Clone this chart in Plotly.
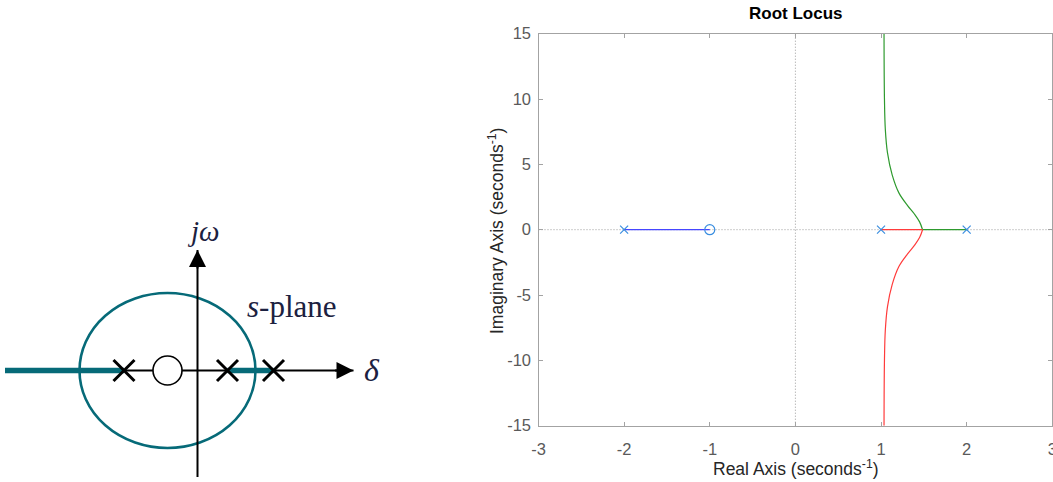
import plotly.graph_objects as go

# ---------------- Left sketch (s-plane), in sketch units ----------------
sk_pole_x = [-7.35, 3.0, 7.6]
sk_zero_x = [-3.0]
sk_locus_left_x = [-19.25, -7.35]
sk_locus_right_x = [3.0, 7.6]
sk_circle_center = [-3.0, 0.0]
sk_circle_radius = [8.8, 7.75]
sk_real_axis_x = [-7.35, 15.6]
sk_imag_axis_y = [-10.65, 12.05]

# ---------------- Root locus data ----------------
rl_pole_re = [-2.0, 1.0, 2.0]
rl_pole_im = [0.0, 0.0, 0.0]
rl_zero_re = [-1.0]
rl_zero_im = [0.0]

blue_re = [-2.0, -1.0]
blue_im = [0.0, 0.0]

green_axis_re = [2.0, 1.485]
green_axis_im = [0.0, 0.0]
green_re = [1.485, 1.45, 1.39, 1.31, 1.21, 1.13, 1.075, 1.05, 1.04, 1.035]
green_im = [0.0, 0.6, 1.2, 1.85, 2.8, 4.2, 5.9, 7.7, 10.0, 15.0]

red_axis_re = [1.0, 1.485]
red_axis_im = [0.0, 0.0]
red_re = [1.485, 1.45, 1.39, 1.31, 1.21, 1.13, 1.075, 1.05, 1.04, 1.035]
red_im = [0.0, -0.6, -1.2, -1.85, -2.8, -4.2, -5.9, -7.7, -10.0, -15.0]

x_ticks = [-3, -2, -1, 0, 1, 2, 3]
y_ticks = [-15, -10, -5, 0, 5, 10, 15]

TEAL = "#066a78"
INK = "#1c2140"
MARK = "#3a8ee0"

fig = go.Figure()

# --- sketch: axes lines
fig.add_trace(go.Scatter(x=sk_real_axis_x, y=[0, 0], mode="lines",
                         line=dict(color="black", width=2), xaxis="x", yaxis="y"))
fig.add_trace(go.Scatter(x=[0, 0], y=sk_imag_axis_y, mode="lines",
                         line=dict(color="black", width=2), xaxis="x", yaxis="y"))
# --- sketch: thick locus segments
fig.add_trace(go.Scatter(x=sk_locus_left_x, y=[0, 0], mode="lines",
                         line=dict(color=TEAL, width=5.5), xaxis="x", yaxis="y"))
fig.add_trace(go.Scatter(x=sk_locus_right_x, y=[0, 0], mode="lines",
                         line=dict(color=TEAL, width=5.5), xaxis="x", yaxis="y"))
# --- sketch: poles and zero
fig.add_trace(go.Scatter(x=sk_pole_x, y=[0] * len(sk_pole_x), mode="markers",
                         marker=dict(symbol="x-thin", size=21,
                                     line=dict(color="black", width=3)),
                         xaxis="x", yaxis="y"))
fig.add_trace(go.Scatter(x=sk_zero_x, y=[0], mode="markers",
                         marker=dict(symbol="circle", size=29, color="white",
                                     line=dict(color="black", width=1.6)),
                         xaxis="x", yaxis="y"))

# --- root locus: zero lines (dotted)
fig.add_trace(go.Scatter(x=[x_ticks[0], x_ticks[-1]], y=[0, 0], mode="lines",
                         line=dict(color="#9a9a9a", width=1, dash="1px,2px"),
                         xaxis="x2", yaxis="y2"))
fig.add_trace(go.Scatter(x=[0, 0], y=[y_ticks[0], y_ticks[-1]], mode="lines",
                         line=dict(color="#9a9a9a", width=1, dash="1px,2px"),
                         xaxis="x2", yaxis="y2"))
# --- root locus branches
fig.add_trace(go.Scatter(x=blue_re, y=blue_im, mode="lines",
                         line=dict(color="#4646ff", width=1.3), xaxis="x2", yaxis="y2"))
fig.add_trace(go.Scatter(x=green_axis_re, y=green_axis_im, mode="lines",
                         line=dict(color="#2e9a2e", width=1.2), xaxis="x2", yaxis="y2"))
fig.add_trace(go.Scatter(x=green_re, y=green_im, mode="lines",
                         line=dict(color="#2e9a2e", width=1.2, shape="spline"),
                         xaxis="x2", yaxis="y2"))
fig.add_trace(go.Scatter(x=red_axis_re, y=red_axis_im, mode="lines",
                         line=dict(color="#ff3b3b", width=1.2), xaxis="x2", yaxis="y2"))
fig.add_trace(go.Scatter(x=red_re, y=red_im, mode="lines",
                         line=dict(color="#ff3b3b", width=1.2, shape="spline"),
                         xaxis="x2", yaxis="y2"))
# --- poles / zeros
fig.add_trace(go.Scatter(x=rl_pole_re, y=rl_pole_im, mode="markers",
                         marker=dict(symbol="x-thin", size=8, color=MARK,
                                     line=dict(color=MARK, width=1.2)),
                         xaxis="x2", yaxis="y2"))
fig.add_trace(go.Scatter(x=rl_zero_re, y=rl_zero_im, mode="markers",
                         marker=dict(symbol="circle-open", size=10, color=MARK,
                                     line=dict(color=MARK, width=1.2)),
                         xaxis="x2", yaxis="y2"))

# --- sketch ellipse
fig.add_shape(type="circle", xref="x", yref="y",
              x0=sk_circle_center[0] - sk_circle_radius[0],
              x1=sk_circle_center[0] + sk_circle_radius[0],
              y0=sk_circle_center[1] - sk_circle_radius[1],
              y1=sk_circle_center[1] + sk_circle_radius[1],
              line=dict(color=TEAL, width=2.6), layer="below")

annotations = [
    # arrowheads on the sketch axes
    dict(x=sk_real_axis_x[1], y=0, ax=sk_real_axis_x[1] - 2, ay=0,
         xref="x", yref="y", axref="x", ayref="y", text="", showarrow=True,
         arrowhead=2, arrowwidth=2, arrowsize=1.7, arrowcolor="black", standoff=0),
    dict(x=0, y=sk_imag_axis_y[1], ax=0, ay=sk_imag_axis_y[1] - 2,
         xref="x", yref="y", axref="x", ayref="y", text="", showarrow=True,
         arrowhead=2, arrowwidth=2, arrowsize=1.7, arrowcolor="black", standoff=0),
    # sketch labels
    dict(x=0.55, y=14.0, xref="x", yref="y", text="<i>jω</i>", showarrow=False,
         xanchor="center", yanchor="middle",
         font=dict(family="Liberation Serif", size=29, color=INK)),
    dict(x=9.4, y=6.4, xref="x", yref="y", text="<i>s</i>-plane", showarrow=False,
         xanchor="center", yanchor="middle",
         font=dict(family="Liberation Serif", size=31, color=INK)),
    dict(x=17.4, y=0.1, xref="x", yref="y", text="<i>δ</i>", showarrow=False,
         xanchor="center", yanchor="middle",
         font=dict(family="Liberation Serif", size=32, color=INK)),
    # root locus title and axis titles
    dict(x=795.5 / 1053, y=1 - 13 / 482, xref="paper", yref="paper",
         text="<b>Root Locus</b>", showarrow=False, xanchor="center", yanchor="middle",
         font=dict(family="Liberation Sans", size=17, color="black")),
    dict(x=795.5 / 1053, y=1 - 468 / 482, xref="paper", yref="paper",
         text="Real Axis (seconds<sup>-1</sup>)", showarrow=False,
         xanchor="center", yanchor="middle",
         font=dict(family="Liberation Sans", size=17.5, color="#262626")),
    dict(x=496 / 1053, y=1 - 231 / 482, xref="paper", yref="paper",
         text="Imaginary Axis (seconds<sup>-1</sup>)", showarrow=False, textangle=-90,
         xanchor="center", yanchor="middle",
         font=dict(family="Liberation Sans", size=17.5, color="#262626")),
]

axis_common = dict(showgrid=False, zeroline=False, showline=True, mirror="ticks",
                   linecolor="#a3a3a3", linewidth=1.3, ticks="inside", ticklen=4,
                   tickcolor="#a3a3a3", automargin=False, ticklabeloverflow="allow",
                   tickfont=dict(family="Liberation Sans", size=16.5, color="#5a5a5a"))

fig.update_layout(
    width=1053, height=482,
    autosize=False,
    margin=dict(l=0, r=0, t=0, b=0, pad=0, autoexpand=False),
    paper_bgcolor="white", plot_bgcolor="white",
    showlegend=False,
    annotations=annotations,
    xaxis=dict(domain=[0, 380 / 1053], range=[-19.75, 18.25], visible=False,
               automargin=False),
    yaxis=dict(domain=[0, 1], range=[-11.15, 37.05], visible=False, automargin=False),
    xaxis2=dict(domain=[538.5 / 1053, 1052.3 / 1053], range=[x_ticks[0], x_ticks[-1]],
                anchor="y2", tickvals=x_ticks, ticktext=[str(v) for v in x_ticks],
                ticklabelstandoff=8, **axis_common),
    yaxis2=dict(domain=[1 - 425.7 / 482, 1 - 33.7 / 482], range=[y_ticks[0], y_ticks[-1]],
                anchor="x2", tickvals=y_ticks, ticktext=[str(v) for v in y_ticks],
                ticklabelstandoff=3, **axis_common),
)

fig.write_html("out.html",
               config={"displayModeBar": False},
               post_script="document.body.style.margin='0';"
                           "document.body.style.overflow='hidden';")
